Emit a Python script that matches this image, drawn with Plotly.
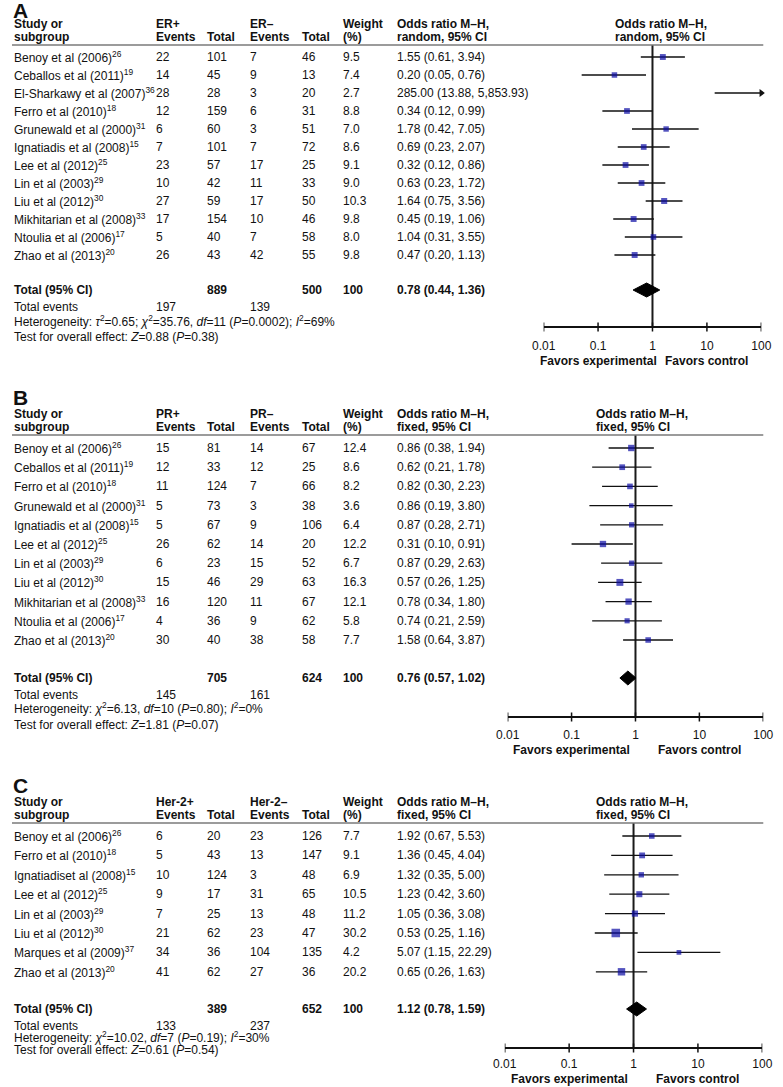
import math
import plotly.graph_objects as go

W, H = 783, 1087
FONT = "Liberation Sans, Arial, sans-serif"
TXT = "#111111"
BLUE = "#0c0ca4"

# ---------------- data ----------------
tick_vals = [0.01, 0.1, 1, 10, 100]
tick_text = ["0.01", "0.1", "1", "10", "100"]

studies_A = ["Benoy et al (2006)", "Ceballos et al (2011)", "El-Sharkawy et al (2007)", "Ferro et al (2010)",
             "Grunewald et al (2000)", "Ignatiadis et al (2008)", "Lee et al (2012)", "Lin et al (2003)",
             "Liu et al (2012)", "Mikhitarian et al (2008)", "Ntoulia et al (2006)", "Zhao et al (2013)"]
refs_A = [26, 19, 36, 18, 31, 15, 25, 29, 30, 33, 17, 20]
ev1_A = [22, 14, 28, 12, 6, 7, 23, 10, 27, 17, 5, 26]
tot1_A = [101, 45, 28, 159, 60, 101, 57, 42, 59, 154, 40, 43]
ev2_A = [7, 9, 3, 6, 3, 7, 17, 11, 17, 10, 7, 42]
tot2_A = [46, 13, 20, 31, 51, 72, 25, 33, 50, 46, 58, 55]
w_A = [9.5, 7.4, 2.7, 8.8, 7.0, 8.6, 9.1, 9.0, 10.3, 9.8, 8.0, 9.8]
or_A = [1.55, 0.20, 285.00, 0.34, 1.78, 0.69, 0.32, 0.63, 1.64, 0.45, 1.04, 0.47]
lo_A = [0.61, 0.05, 13.88, 0.12, 0.42, 0.23, 0.12, 0.23, 0.75, 0.19, 0.31, 0.20]
hi_A = [3.94, 0.76, 5853.93, 0.99, 7.05, 2.07, 0.86, 1.72, 3.56, 1.06, 3.55, 1.13]
total_A = dict(tot1=889, tot2=500, w=100, orv=0.78, lo=0.44, hi=1.36, ev1=197, ev2=139)

studies_B = ["Benoy et al (2006)", "Ceballos et al (2011)", "Ferro et al (2010)", "Grunewald et al (2000)",
             "Ignatiadis et al (2008)", "Lee et al (2012)", "Lin et al (2003)", "Liu et al (2012)",
             "Mikhitarian et al (2008)", "Ntoulia et al (2006)", "Zhao et al (2013)"]
refs_B = [26, 19, 18, 31, 15, 25, 29, 30, 33, 17, 20]
ev1_B = [15, 12, 11, 5, 5, 26, 6, 15, 16, 4, 30]
tot1_B = [81, 33, 124, 73, 67, 62, 23, 46, 120, 36, 40]
ev2_B = [14, 12, 7, 3, 9, 14, 15, 29, 11, 9, 38]
tot2_B = [67, 25, 66, 38, 106, 20, 52, 63, 67, 62, 58]
w_B = [12.4, 8.6, 8.2, 3.6, 6.4, 12.2, 6.7, 16.3, 12.1, 5.8, 7.7]
or_B = [0.86, 0.62, 0.82, 0.86, 0.87, 0.31, 0.87, 0.57, 0.78, 0.74, 1.58]
lo_B = [0.38, 0.21, 0.30, 0.19, 0.28, 0.10, 0.29, 0.26, 0.34, 0.21, 0.64]
hi_B = [1.94, 1.78, 2.23, 3.80, 2.71, 0.91, 2.63, 1.25, 1.80, 2.59, 3.87]
total_B = dict(tot1=705, tot2=624, w=100, orv=0.76, lo=0.57, hi=1.02, ev1=145, ev2=161)

studies_C = ["Benoy et al (2006)", "Ferro et al (2010)", "Ignatiadiset al (2008)", "Lee et al (2012)",
             "Lin et al (2003)", "Liu et al (2012)", "Marques et al (2009)", "Zhao et al (2013)"]
refs_C = [26, 18, 15, 25, 29, 30, 37, 20]
ev1_C = [6, 5, 10, 9, 7, 21, 34, 41]
tot1_C = [20, 43, 124, 17, 25, 62, 36, 62]
ev2_C = [23, 13, 3, 31, 13, 23, 104, 27]
tot2_C = [126, 147, 48, 65, 48, 47, 135, 36]
w_C = [7.7, 9.1, 6.9, 10.5, 11.2, 30.2, 4.2, 20.2]
or_C = [1.92, 1.36, 1.32, 1.23, 1.05, 0.53, 5.07, 0.65]
lo_C = [0.67, 0.45, 0.35, 0.42, 0.36, 0.25, 1.15, 0.26]
hi_C = [5.53, 4.04, 5.00, 3.60, 3.08, 1.16, 22.29, 1.63]
total_C = dict(tot1=389, tot2=652, w=100, orv=1.12, lo=0.78, hi=1.59, ev1=133, ev2=237)

het_A = "Heterogeneity: <i>τ</i><sup>2</sup>=0.65; <i>χ</i><sup>2</sup>=35.76, <i>df</i>=11 (<i>P</i>=0.0002); <i>I</i><sup>2</sup>=69%"
het_B = "Heterogeneity: <i>χ</i><sup>2</sup>=6.13, <i>df</i>=10 (<i>P</i>=0.80); <i>I</i><sup>2</sup>=0%"
het_C = "Heterogeneity: <i>χ</i><sup>2</sup>=10.02, <i>df</i>=7 (<i>P</i>=0.19); <i>I</i><sup>2</sup>=30%"
test_A = "Test for overall effect: <i>Z</i>=0.88 (<i>P</i>=0.38)"
test_B = "Test for overall effect: <i>Z</i>=1.81 (<i>P</i>=0.07)"
test_C = "Test for overall effect: <i>Z</i>=0.61 (<i>P</i>=0.54)"

# ---------------- layout (pixel positions) ----------------
panels = [
    dict(letter="A", g1="ER+", g2="ER–", method="random",
         studies=studies_A, refs=refs_A, ev1=ev1_A, tot1=tot1_A, ev2=ev2_A, tot2=tot2_A, w=w_A,
         orv=or_A, lo=lo_A, hi=hi_A, total=total_A, het=het_A, test=test_A,
         letter_y=10, h1=23.5, h2=37, rule=45, row0=57, dy=18.0, total_y=290, events_y=307, het_y=321,
         test_y=337, axis_y=327, fav_y=361, x0=547, x1=771, head_x=619, xa="x2", standoff=8),
    dict(letter="B", g1="PR+", g2="PR–", method="fixed",
         studies=studies_B, refs=refs_B, ev1=ev1_B, tot1=tot1_B, ev2=ev2_B, tot2=tot2_B, w=w_B,
         orv=or_B, lo=lo_B, hi=hi_B, total=total_B, het=het_B, test=test_B,
         letter_y=397, h1=414, h2=427, rule=435, row0=448, dy=19.2, total_y=678, events_y=695, het_y=708,
         test_y=725, axis_y=717, fav_y=750, x0=510, x1=773, head_x=600, xa="x3", standoff=7),
    dict(letter="C", g1="Her-2+", g2="Her-2–", method="fixed",
         studies=studies_C, refs=refs_C, ev1=ev1_C, tot1=tot1_C, ev2=ev2_C, tot2=tot2_C, w=w_C,
         orv=or_C, lo=lo_C, hi=hi_C, total=total_C, het=het_C, test=test_C,
         letter_y=785, h1=802, h2=815, rule=823, row0=836, dy=19.4, total_y=1009, events_y=1026, het_y=1037,
         test_y=1050, axis_y=1048, fav_y=1079, x0=507, x1=772, head_x=600, xa="x4", standoff=5),
]

COLS = dict(study=1, ev1=147, tot1=200, ev2=244, tot2=297, w=340, ci=395)

annotations = []
shapes = []
fig = go.Figure()


def txt(x, y, s, bold=False, size=12, xanchor="left", xref="paper", color=TXT):
    if bold:
        s = "<b>" + s + "</b>"
    if xref == "paper":
        x = x / W
    annotations.append(dict(x=x, y=y, xref=xref, yref="y", text=s, showarrow=False,
                            xanchor=xanchor, yanchor="middle", borderpad=0,
                            font=dict(family=FONT, size=size, color=color)))


def fmt_ci(o, l, h):
    return f"{o:,.2f} ({l:,.2f}, {h:,.2f})"


for p in panels:
    xa = p["xa"]
    txt(0, p["letter_y"], p["letter"], bold=True, size=21)
    txt(COLS["study"], p["h1"], "Study or", bold=True)
    txt(COLS["study"], p["h2"], "subgroup", bold=True)
    txt(COLS["ev1"], p["h1"], p["g1"], bold=True)
    txt(COLS["ev1"], p["h2"], "Events", bold=True)
    txt(COLS["tot1"], p["h2"], "Total", bold=True)
    txt(COLS["ev2"], p["h1"], p["g2"], bold=True)
    txt(COLS["ev2"], p["h2"], "Events", bold=True)
    txt(COLS["tot2"], p["h2"], "Total", bold=True)
    txt(COLS["w"], p["h1"], "Weight", bold=True)
    txt(COLS["w"], p["h2"], "(%)", bold=True)
    for hx in (COLS["ci"], p["head_x"]):
        txt(hx, p["h1"], "Odds ratio M–H,", bold=True)
        txt(hx, p["h2"], f"{p['method']}, 95% CI", bold=True)
    shapes.append(dict(type="line", xref="paper", yref="y", x0=0, x1=773 / W, y0=p["rule"], y1=p["rule"],
                       line=dict(color="#7a7a7a", width=1.5)))

    ys = [p["row0"] + i * p["dy"] for i in range(len(p["studies"]))]
    for i, y in enumerate(ys):
        txt(COLS["study"], y, f"{p['studies'][i]}<sup>{p['refs'][i]}</sup>")
        txt(COLS["ev1"], y, str(p["ev1"][i]))
        txt(COLS["tot1"], y, str(p["tot1"][i]))
        txt(COLS["ev2"], y, str(p["ev2"][i]))
        txt(COLS["tot2"], y, str(p["tot2"][i]))
        txt(COLS["w"], y, f"{p['w'][i]:.1f}")
        txt(COLS["ci"], y, fmt_ci(p["orv"][i], p["lo"][i], p["hi"][i]))

    t = p["total"]
    ty = p["total_y"]
    txt(COLS["study"], ty, "Total (95% CI)", bold=True)
    txt(COLS["tot1"], ty, str(t["tot1"]), bold=True)
    txt(COLS["tot2"], ty, str(t["tot2"]), bold=True)
    txt(COLS["w"], ty, str(t["w"]), bold=True)
    txt(COLS["ci"], ty, fmt_ci(t["orv"], t["lo"], t["hi"]), bold=True)
    txt(COLS["study"], p["events_y"], "Total events")
    txt(COLS["ev1"], p["events_y"], str(t["ev1"]))
    txt(COLS["ev2"], p["events_y"], str(t["ev2"]))
    txt(COLS["study"], p["het_y"], p["het"])
    txt(COLS["study"], p["test_y"], p["test"])

    xmin, xmax = tick_vals[0], tick_vals[-1]
    # line of no effect
    fig.add_trace(go.Scatter(x=[1, 1], y=[p["rule"], p["axis_y"]], mode="lines",
                             line=dict(color="#1a1a1a", width=2), xaxis=xa, yaxis="y",
                             hoverinfo="skip", showlegend=False))
    # confidence intervals
    cx, cy = [], []
    arrows_r = []
    for i, y in enumerate(ys):
        cx += [max(p["lo"][i], xmin), min(p["hi"][i], xmax), None]
        cy += [y, y, None]
        if p["hi"][i] > xmax:
            arrows_r.append(y)
    fig.add_trace(go.Scatter(x=cx, y=cy, mode="lines", line=dict(color="#111111", width=1.3),
                             xaxis=xa, yaxis="y", hoverinfo="skip", showlegend=False, cliponaxis=False))
    if arrows_r:
        fig.add_trace(go.Scatter(x=[xmax] * len(arrows_r), y=arrows_r, mode="markers",
                                 marker=dict(symbol="triangle-right", size=7, color="#111111"),
                                 xaxis=xa, yaxis="y", showlegend=False, cliponaxis=False))
    # study squares (area ~ weight)
    sx, sy, ss = [], [], []
    for i, y in enumerate(ys):
        if xmin <= p["orv"][i] <= xmax:
            sx.append(p["orv"][i])
            sy.append(y)
            ss.append(2.5 + 1.1 * math.sqrt(p["w"][i]))
    fig.add_trace(go.Scatter(x=sx, y=sy, mode="markers",
                             marker=dict(symbol="square", size=ss, color=BLUE, line=dict(width=0)),
                             xaxis=xa, yaxis="y", showlegend=False, cliponaxis=False))
    # pooled diamond
    dh = 7
    fig.add_trace(go.Scatter(x=[t["lo"], t["orv"], t["hi"], t["orv"], t["lo"]],
                             y=[ty, ty - dh, ty, ty + dh, ty], mode="lines", fill="toself",
                             fillcolor="#000000", line=dict(color="#000000", width=1),
                             xaxis=xa, yaxis="y", showlegend=False, hoverinfo="skip"))
    # crossing tick marks
    kx, ky = [], []
    for tv in tick_vals:
        kx += [tv, tv, None]
        ky += [p["axis_y"] - 4.5, p["axis_y"] + 4.5, None]
    fig.add_trace(go.Scatter(x=kx, y=ky, mode="lines", line=dict(color="#111111", width=1.5),
                             xaxis=xa, yaxis="y", showlegend=False, hoverinfo="skip", cliponaxis=False))
    txt(math.log10(0.1), p["fav_y"], "Favors experimental", bold=True, xanchor="center", xref=xa)
    txt(math.log10(10), p["fav_y"], "Favors control", bold=True, xanchor="center", xref=xa)

layout_axes = {}
for p in panels:
    key = "xaxis" + p["xa"][1:]
    layout_axes[key] = dict(type="log", range=[-2, 2], domain=[p["x0"] / W, p["x1"] / W],
                            anchor="free", position=1 - p["axis_y"] / H,
                            showline=True, linecolor="#111111", linewidth=1.5,
                            ticks="", tickvals=tick_vals, ticktext=tick_text,
                            ticklabelstandoff=p["standoff"],
                            tickfont=dict(family=FONT, size=12, color=TXT),
                            showgrid=False, zeroline=False, fixedrange=True)

fig.update_layout(
    width=W, height=H, autosize=False,
    margin=dict(l=0, r=0, t=0, b=0, pad=0),
    paper_bgcolor="white", plot_bgcolor="rgba(0,0,0,0)",
    showlegend=False,
    xaxis=dict(range=[0, W], domain=[0, 1], visible=False, fixedrange=True),
    yaxis=dict(range=[H, 0], domain=[0, 1], visible=False, fixedrange=True, anchor="x"),
    annotations=annotations, shapes=shapes,
    **layout_axes,
)

post = ("document.documentElement.style.margin='0';document.documentElement.style.overflow='hidden';"
        "document.body.style.margin='0';document.body.style.padding='0';document.body.style.overflow='hidden';"
        "var d=document.getElementById('{plot_id}');"
        "d.style.position='fixed';d.style.left='0px';d.style.top='0px';d.style.margin='0';")

fig.write_html("out.html", config={"displayModeBar": False}, post_script=post)
